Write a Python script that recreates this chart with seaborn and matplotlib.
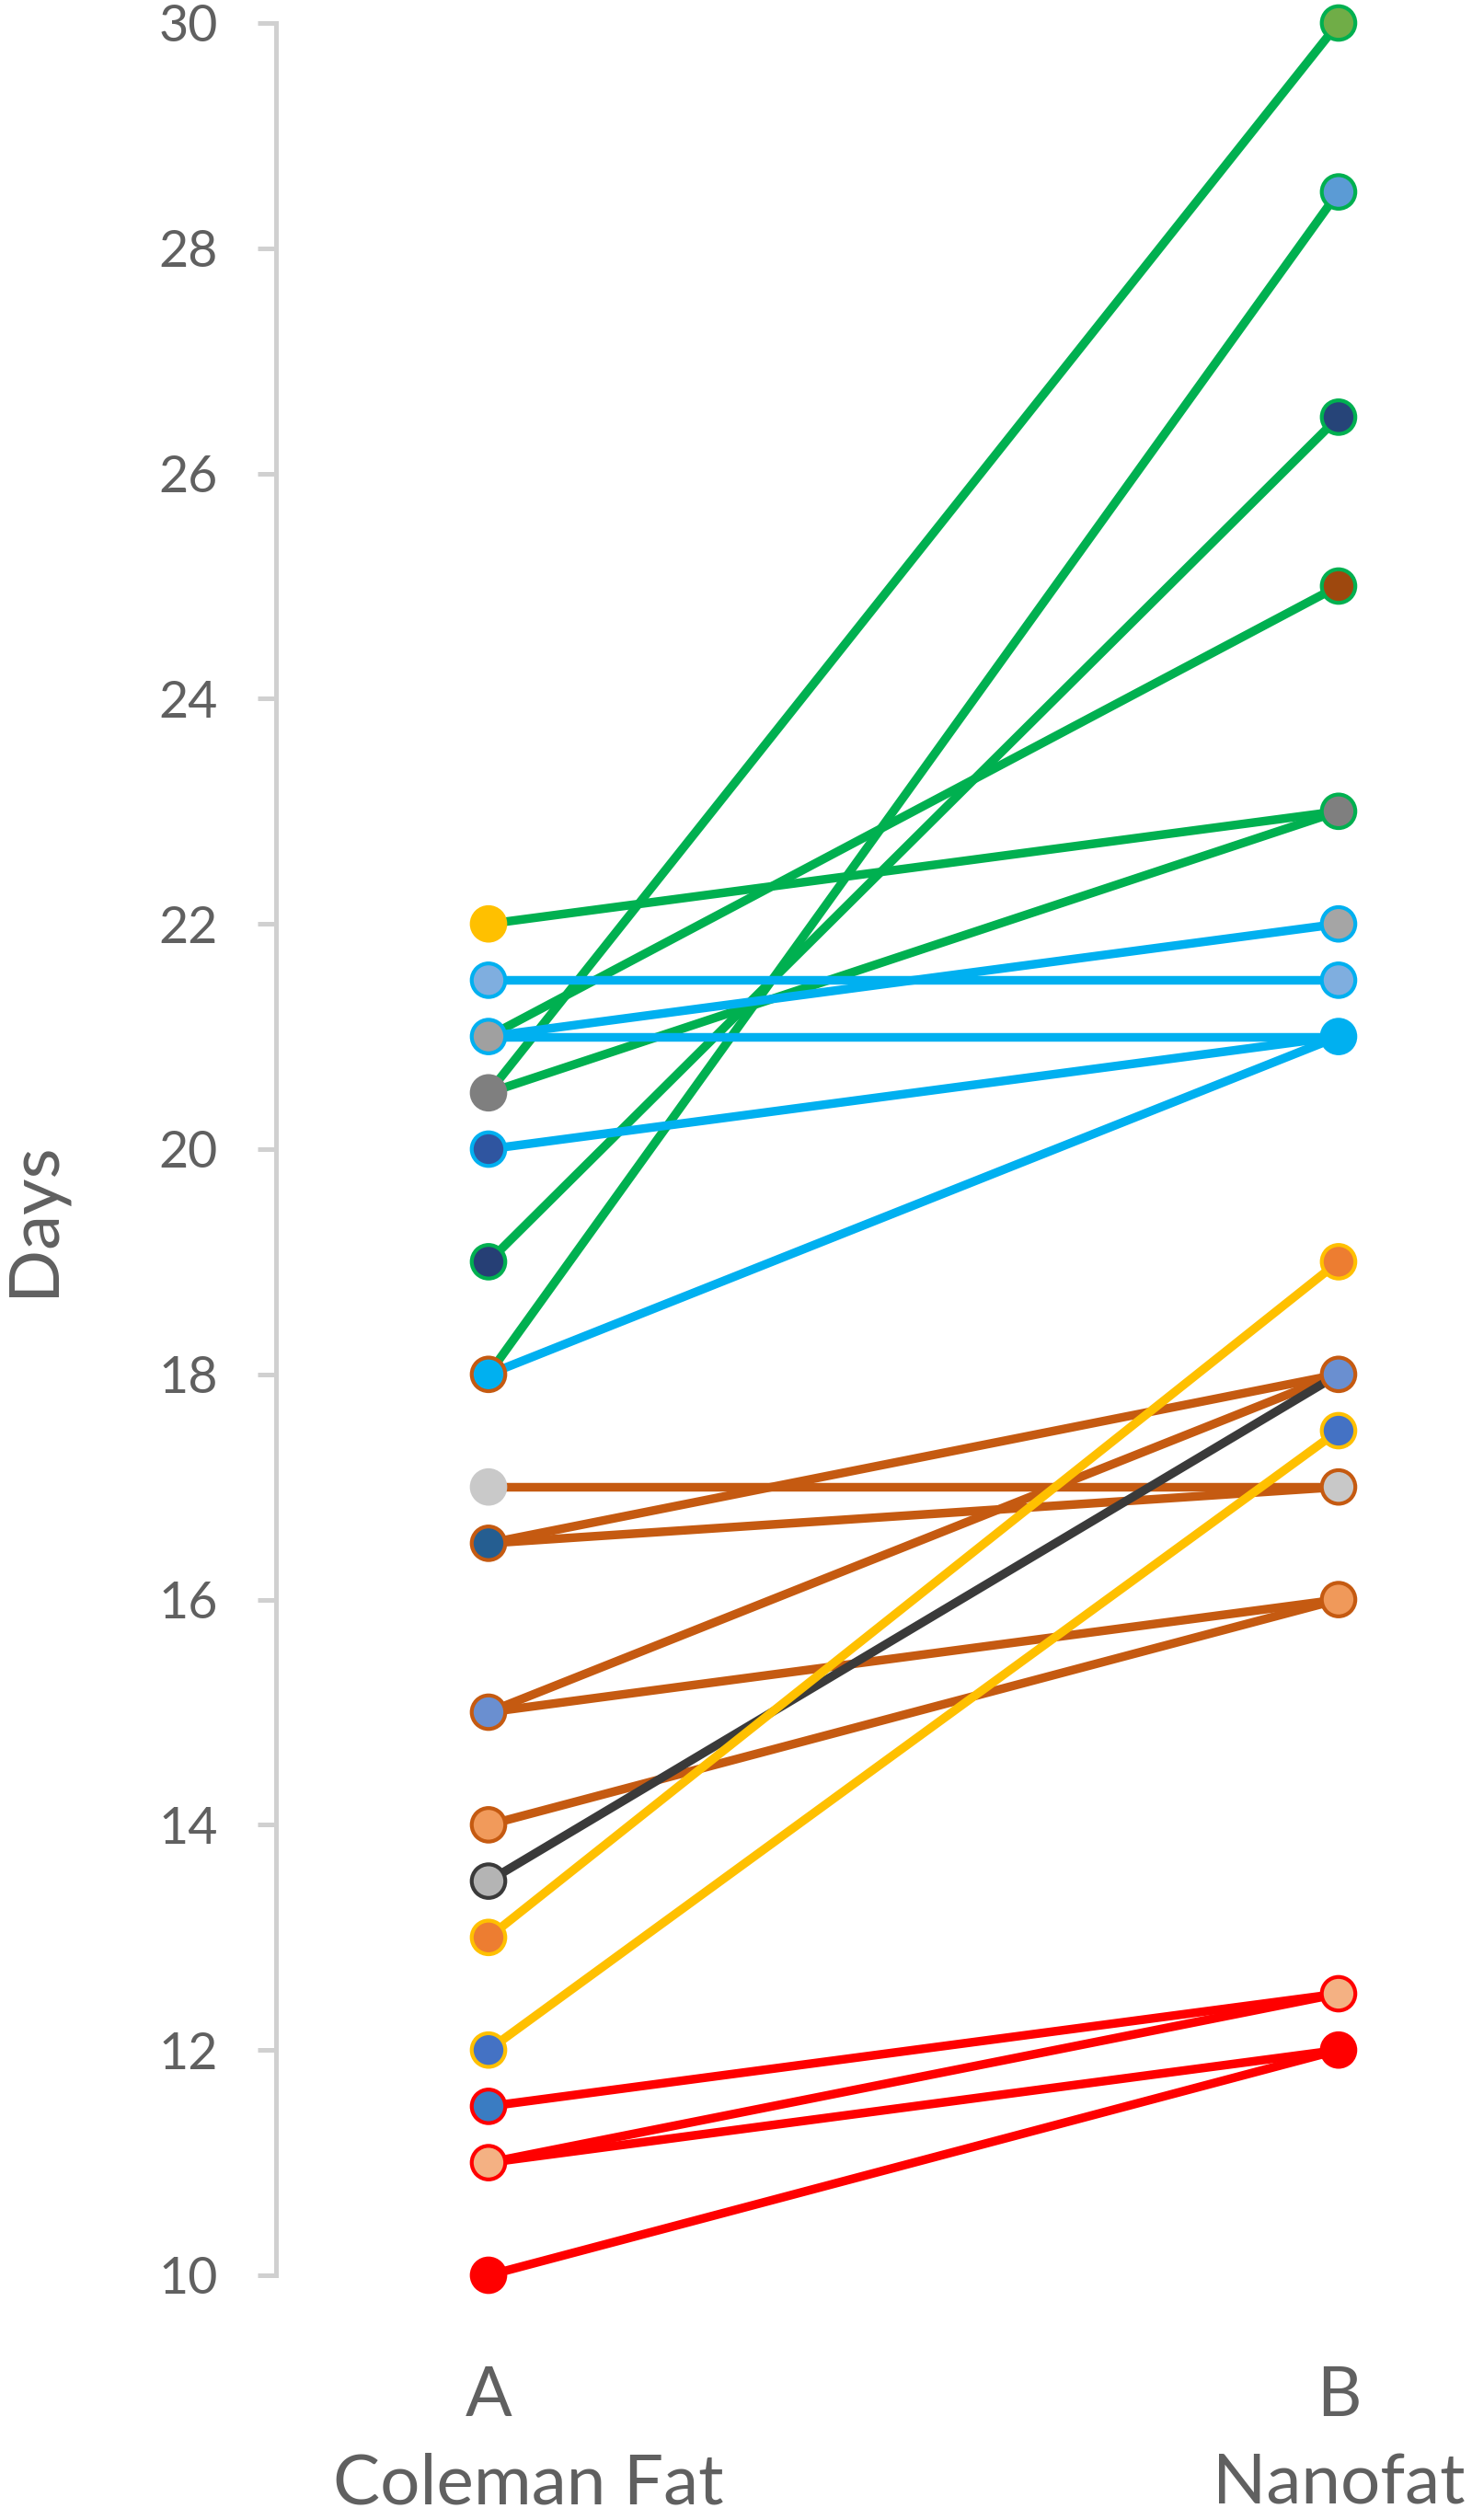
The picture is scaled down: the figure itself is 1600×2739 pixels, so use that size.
import matplotlib
matplotlib.use("Agg")
import matplotlib.pyplot as plt
import numpy as np
import pandas as pd
import seaborn as sns

# ---------------- data ----------------
categories = ["A", "B"]
group_names = ["Coleman Fat", "Nanofat"]
y_label = "Days"
y_ticks = [10, 12, 14, 16, 18, 20, 22, 24, 26, 28, 30]

# paired lines (A value -> B value)
days_a = [22, 21, 20.5, 20.5, 19, 18,
          21.5, 21, 21, 20, 18,
          17, 16.5, 16.5, 15, 15, 14,
          13.5,
          13, 12,
          11.5, 11, 11, 10]
days_b = [23, 25, 30, 23, 26.5, 28.5,
          21.5, 22, 21, 21, 21,
          17, 17, 18, 18, 16, 16,
          18,
          19, 17.5,
          12.5, 12.5, 12, 12]
line_colors = ["#00B050"] * 6 + ["#00B0F0"] * 5 + ["#C55A11"] * 6 + \
              ["#3A3A3A"] + ["#FFC000"] * 2 + ["#FF0000"] * 4

# markers at A
a_points = [22, 21.5, 21, 20.5, 20, 19, 18, 17, 16.5, 15, 14, 13.5, 13, 12, 11.5, 11, 10]
a_face = ["#FFC000", "#7FAEDF", "#A0A0A0", "#7F7F7F", "#2F55A0", "#263F75", "#00B0F0",
          "#C9C9C9", "#255E91", "#6A8FD0", "#F19A5B", "#B4B4B4", "#ED7D31", "#4472C4",
          "#3A7CC2", "#F4B183", "#FF0000"]
a_edge = ["#FFC000", "#00B0F0", "#00B0F0", "#7F7F7F", "#00B0F0", "#00B050", "#C55A11",
          "#C9C9C9", "#C55A11", "#C55A11", "#C55A11", "#3A3A3A", "#FFC000", "#FFC000",
          "#FF0000", "#FF0000", "#FF0000"]

# markers at B
b_points = [30, 28.5, 26.5, 25, 23, 22, 21.5, 21, 19, 18, 17.5, 17, 16, 12.5, 12]
b_face = ["#70AD47", "#5B9BD5", "#264478", "#9E480E", "#7F7F7F", "#A5A5A5", "#7FAEDF",
          "#00B0F0", "#ED7D31", "#6A8FD0", "#4472C4", "#C8C8C8", "#F0995A", "#F4B183",
          "#FF0000"]
b_edge = ["#00B050", "#00B050", "#00B050", "#00B050", "#00B050", "#00B0F0", "#00B0F0",
          "#00B0F0", "#FFC000", "#C55A11", "#FFC000", "#C55A11", "#C55A11", "#FF0000",
          "#FF0000"]

# ---------------- tables ----------------
rows = []
for i, (a, b) in enumerate(zip(days_a, days_b)):
    rows.append({"pair": f"p{i}", "cat": categories[0], "days": a})
    rows.append({"pair": f"p{i}", "cat": categories[1], "days": b})
lines_df = pd.DataFrame(rows)
line_pal = {f"p{i}": c for i, c in enumerate(line_colors)}

prow = []
edges = []
face_pal = {}
for j, (v, f, e) in enumerate(zip(a_points, a_face, a_edge)):
    prow.append({"pid": f"a{j}", "cat": categories[0], "days": v})
    face_pal[f"a{j}"] = f
    edges.append(e)
for j, (v, f, e) in enumerate(zip(b_points, b_face, b_edge)):
    prow.append({"pid": f"b{j}", "cat": categories[1], "days": v})
    face_pal[f"b{j}"] = f
    edges.append(e)
points_df = pd.DataFrame(prow)

# ---------------- style ----------------
sns.set_theme(style="white")
plt.rcParams["font.family"] = ["Lato", "DejaVu Sans"]
text_gray = "#606060"
axis_gray = "#D0D0D0"

W, H = 1600, 2739
fig = plt.figure(figsize=(W / 100, H / 100), dpi=100)
ax = fig.add_axes([300 / W, 1 - 2473 / H, 1300 / W, 2448 / H])

sns.lineplot(data=lines_df, x="cat", y="days", hue="pair", palette=line_pal,
             estimator=None, sort=False, legend=False, linewidth=6.8,
             ax=ax, clip_on=False, zorder=2)
sns.scatterplot(data=points_df, x="cat", y="days", hue="pid", palette=face_pal,
                edgecolor=edges, linewidth=3.0, s=690, legend=False,
                ax=ax, clip_on=False, zorder=3)

ax.set_xlim(-0.25, 1.157)
ax.set_ylim(10, 30)
ax.set_yticks(y_ticks)
ax.set_yticklabels([str(t) for t in y_ticks])
ax.set_xlabel("")
ax.set_ylabel("")

for s in ["top", "right", "bottom"]:
    ax.spines[s].set_visible(False)
ax.spines["left"].set_color(axis_gray)
ax.spines["left"].set_linewidth(3.6)

ax.tick_params(axis="y", length=14.4, width=3.6, color=axis_gray,
               labelsize=40, labelcolor=text_gray, pad=31, left=True)
ax.tick_params(axis="x", length=0, labelsize=54, labelcolor=text_gray, pad=70)
ax.grid(False)

fig.text(36 / W, 1 - 1325 / H, y_label, rotation=90, ha="center", va="center",
         fontsize=55, color=text_gray)

fig.text(362 / W, 1 - 2722 / H, group_names[0], ha="left", va="baseline",
         fontsize=55, color=text_gray)
fig.text(1318 / W, 1 - 2722 / H, group_names[1], ha="left", va="baseline",
         fontsize=55, color=text_gray)

fig.savefig("out.png", dpi=100, facecolor="white")
